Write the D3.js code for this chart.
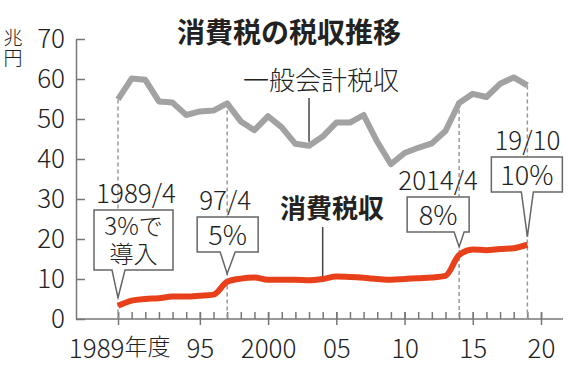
<!DOCTYPE html>
<html>
<head>
<meta charset="utf-8">
<script src="https://cdn.jsdelivr.net/npm/d3@7"></script>
<style>
  body { margin: 0; background: #fff; }
  text { font-family: "Noto Sans CJK JP", sans-serif; fill: #222; font-weight: 300; }
</style>
</head>
<body>
<div id="app"></div>
<script>
// fiscal years and revenues (trillion yen)
let years = [1989, 1990, 1991, 1992, 1993, 1994, 1995, 1996, 1997, 1998, 1999,
  2000, 2001, 2002, 2003, 2004, 2005, 2006, 2007, 2008, 2009,
  2010, 2011, 2012, 2013, 2014, 2015, 2016, 2017, 2018, 2019]
let generalTax = [54.9, 60.1, 59.8, 54.4, 54.1, 51.0, 51.9, 52.1, 53.9, 49.4, 47.2,
  50.7, 47.9, 43.8, 43.3, 45.6, 49.1, 49.1, 51.0, 44.3, 38.7,
  41.5, 42.8, 43.9, 47.0, 54.0, 56.3, 55.5, 58.8, 60.4, 58.4]
let consumptionTax = [3.3, 4.6, 5.0, 5.2, 5.6, 5.6, 5.8, 6.1, 9.3, 10.1, 10.4,
  9.8, 9.8, 9.8, 9.7, 10.0, 10.6, 10.5, 10.3, 10.0, 9.8,
  10.0, 10.2, 10.4, 10.8, 16.0, 17.4, 17.2, 17.5, 17.7, 18.6]

let yTicks = [0, 10, 20, 30, 40, 50, 60, 70]
let xMajor = [1989, 1995, 2000, 2005, 2010, 2015, 2020]
let xMajorLabels = ["1989", "95", "2000", "05", "10", "15", "20"]
let xMinor = years.concat([2020])

// tax rate changes
let rateYears = [1989, 1997, 2014, 2019]
let rateDates = ["1989/4", "97/4", "2014/4", "19/10"]
let rateTexts = [["3%で", "導入"], ["5%"], ["8%"], ["10%"]]

let width = 580, height = 365
let left = 76, right = 563
let gray = "#a2a2a2", red = "#e8401a", axisColor = "#777"

let svg = d3.select("#app").append("svg")
    .attr("width", width)
    .attr("height", height)

let x = d3.scaleLinear().domain([1989, 2020]).range([118, 541])
let y = d3.scaleLinear().domain([0, 70]).range([319, 39])

// title + unit
svg.append("text")
    .attr("x", 289).attr("y", 43)
    .attr("text-anchor", "middle")
    .style("font-size", "28px").style("font-weight", "bold")
    .text("消費税の税収推移")

svg.selectAll(".unit").data(["兆", "円"]).enter().append("text")
    .attr("class", "unit")
    .attr("x", 13).attr("y", (d, i) => 45 + i * 20)
    .attr("text-anchor", "middle")
    .style("font-size", "19px")
    .text(d => d)

// y axis
let yAxis = svg.append("g")
    .attr("transform", "translate(" + left + ",0)")
    .call(d3.axisLeft(y).tickValues(yTicks).tickSize(-9).tickSizeOuter(0).tickPadding(11))
yAxis.select(".domain").attr("stroke", axisColor).attr("stroke-width", 1.5)
yAxis.selectAll(".tick line").attr("stroke", axisColor).attr("stroke-width", 1.5)
yAxis.selectAll(".tick text")
    .style("font-size", "26px").style("font-family", "'Noto Sans CJK JP', sans-serif")
    .attr("fill", "#333")

// x axis
svg.append("line")
    .attr("x1", left).attr("x2", right)
    .attr("y1", y(0)).attr("y2", y(0))
    .attr("stroke", axisColor).attr("stroke-width", 1.5)

let minorAxis = svg.append("g")
    .attr("transform", "translate(0," + y(0) + ")")
    .call(d3.axisBottom(x).tickValues(xMinor).tickSize(-7).tickFormat(""))
minorAxis.select(".domain").remove()
minorAxis.selectAll(".tick line").attr("stroke", axisColor).attr("stroke-width", 1.5)

let majorAxis = svg.append("g")
    .attr("transform", "translate(0," + y(0) + ")")
    .call(d3.axisBottom(x).tickValues(xMajor).tickSize(6).tickPadding(8)
        .tickFormat((d, i) => xMajorLabels[i]))
majorAxis.select(".domain").remove()
majorAxis.selectAll(".tick line")
    .attr("y1", -7).attr("y2", 6)
    .attr("stroke", axisColor).attr("stroke-width", 1.5)
majorAxis.selectAll(".tick text")
    .style("font-size", "26px").style("font-family", "'Noto Sans CJK JP', sans-serif")
    .attr("fill", "#333")
    .attr("dy", "0.95em")
// first label: "1989年度"
majorAxis.selectAll(".tick text").filter(d => d === 1989)
    .attr("text-anchor", "end").attr("x", 6)
majorAxis.selectAll(".tick").filter(d => d === 1989).append("text")
    .attr("x", 6).attr("y", 14).attr("dy", "0.95em")
    .attr("text-anchor", "start")
    .attr("fill", "#333")
    .style("font-size", "23px")
    .text("年度")

// dashed guides at rate changes
svg.selectAll(".guide").data(rateYears).enter().append("line")
    .attr("class", "guide")
    .attr("x1", d => x(d)).attr("x2", d => x(d))
    .attr("y1", d => y(generalTax[years.indexOf(d)]))
    .attr("y2", y(0))
    .attr("stroke", "#999").attr("stroke-width", 1.5)
    .attr("stroke-dasharray", "4,3")

// lines
let gLine = d3.line().x((d, i) => x(years[i])).y(d => y(d))
svg.append("path")
    .datum(generalTax)
    .attr("d", gLine)
    .attr("fill", "none").attr("stroke", gray)
    .attr("stroke-width", 6).attr("stroke-linejoin", "round")

let cLine = d3.line().x((d, i) => x(years[i])).y(d => y(d)).curve(d3.curveMonotoneX)
svg.append("path")
    .datum(consumptionTax)
    .attr("d", cLine)
    .attr("fill", "none").attr("stroke", red)
    .attr("stroke-width", 6).attr("stroke-linejoin", "round")

// series labels with leader lines
let gx = x(2003)
svg.append("line")
    .attr("x1", gx).attr("x2", gx)
    .attr("y1", 98).attr("y2", y(generalTax[years.indexOf(2003)]) - 4)
    .attr("stroke", "#444").attr("stroke-width", 1.5)
svg.append("text")
    .attr("x", 321).attr("y", 90)
    .attr("text-anchor", "middle")
    .style("font-size", "26px")
    .text("一般会計税収")

let cx = x(2004)
svg.append("line")
    .attr("x1", cx).attr("x2", cx)
    .attr("y1", 227).attr("y2", y(consumptionTax[years.indexOf(2004)]) - 3)
    .attr("stroke", "#444").attr("stroke-width", 1.5)
svg.append("text")
    .attr("x", 332).attr("y", 218)
    .attr("text-anchor", "middle")
    .style("font-size", "26px").style("font-weight", "bold")
    .text("消費税収")

// callout boxes: offsets relative to the tip
let boxes = [
  {l: -24, r: 55, top: 210, bot: 270, nl: -6, nr: 7, dx: 18, dy: 203},
  {l: -30, r: 31, top: 217, bot: 252, nl: -7, nr: 8, dx: -2, dy: 210},
  {l: -52, r: 10, top: 197, bot: 232, nl: -5, nr: 5, dx: -21, dy: 190},
  {l: -36, r: 35, top: 157, bot: 192, nl: -6, nr: 6, dx: 0, dy: 150}
]

rateYears.forEach((yr, k) => {
  let b = boxes[k]
  let tx = x(yr)
  let ty = y(consumptionTax[years.indexOf(yr)]) - 8
  let p = d3.path()
  p.moveTo(tx + b.l, b.top)
  p.lineTo(tx + b.r, b.top)
  p.lineTo(tx + b.r, b.bot)
  p.lineTo(tx + b.nr, b.bot)
  p.lineTo(tx, ty)
  p.lineTo(tx + b.nl, b.bot)
  p.lineTo(tx + b.l, b.bot)
  p.closePath()
  svg.append("path")
      .attr("d", p.toString())
      .attr("fill", "#fff").attr("stroke", "#666").attr("stroke-width", 1.5)

  let cxm = tx + (b.l + b.r) / 2
  let lines = rateTexts[k]
  let fs = lines.length > 1 ? 24 : 27
  svg.selectAll(".rt" + k).data(lines).enter().append("text")
      .attr("class", "rt" + k)
      .attr("x", cxm)
      .attr("y", (d, i) => b.bot - 7 - (lines.length - 1 - i) * 28)
      .attr("text-anchor", "middle")
      .style("font-size", fs + "px")
      .text(d => d)

  svg.append("text")
      .attr("x", tx + b.dx).attr("y", b.dy)
      .attr("text-anchor", "middle")
      .attr("fill", "#333")
      .style("font-size", "26px")
      .text(rateDates[k])
})
</script>
</body>
</html>
